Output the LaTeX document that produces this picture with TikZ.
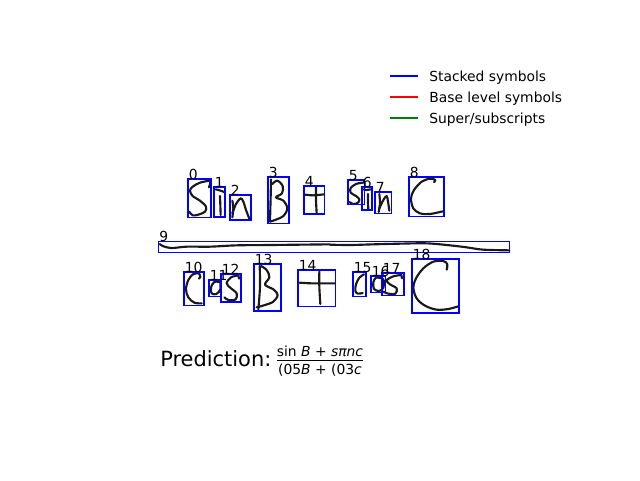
\documentclass[tikz,border=0pt]{standalone}
\usepackage{fontspec}
\setmainfont{DejaVu Sans}
\tikzset{
  symbox/.style={draw=blue,line width=1.2pt},
  ink/.style={draw=black!90,line width=1.6pt,line cap=round,line join=round},
  idx/.style={anchor=base west,inner sep=0pt,font=\fontsize{10.4}{12}\selectfont},
  legline/.style={line width=1.25pt},
  legtext/.style={anchor=base west,inner sep=0pt,font=\fontsize{10.4}{12}\selectfont},
  frac/.style={anchor=base,inner sep=0pt,font=\fontsize{10.4}{12}\selectfont},
  z1/.style={shift={(150,160)},x=0.25pt,y=-0.25pt},
  z2/.style={shift={(330,160)},x=0.25pt,y=-0.25pt},
  z3/.style={shift={(175,250)},x=0.25pt,y=-0.25pt},
  z4/.style={shift={(340,245)},x=0.25pt,y=-0.25pt},
}
\newcommand{\symb}[5]{%
  \draw[symbox] (#2-0.6,#4-0.6) rectangle (#3-0.6,#5-0.6);
  \node[idx] (lab#1) at (#2,#4-0.5) {#1};
}
\newcommand{\inkline}[1]{\draw[ink] plot[smooth,tension=0.55] coordinates {#1};}
\begin{document}
\begin{tikzpicture}[x=0.75pt,y=-0.75pt]
\useasboundingbox (0,0) rectangle (640,480);
% legend
\coordinate (la) at (390,76); \coordinate (lb) at (418,76);
\coordinate (ma) at (390,97); \coordinate (mb) at (418,97);
\coordinate (na) at (390,118); \coordinate (nb) at (418,118);
\draw[legline,blue] (la) -- (lb);
\draw[legline,red] (ma) -- (mb);
\draw[legline,green!50!black] (na) -- (nb);
\node[legtext] (t1) at (429,81) {Stacked symbols};
\node[legtext] (t2) at (429,102) {Base level symbols};
\node[legtext] (t3) at (429,123) {Super/subscripts};
% first row
\begin{scope}[z1]
\inkline{(178,62)(150,68)(128,80)(120,92)(128,108)(150,122)(168,140)(165,155)(145,164)(128,166)(118,155)}
\inkline{(182,60)(180,72)(177,82)}
\inkline{(197,88)(212,92)(222,96)}
\inkline{(210,108)(211,135)(212,165)}
\inkline{(247,122)(250,145)(247,172)}
\inkline{(247,160)(258,132)(272,115)(280,125)(288,150)(298,176)}
\inkline{(363,58)(362,110)(360,184)}
\inkline{(367,72)(382,62)(398,78)(396,100)(378,112)(400,122)(412,145)(400,168)(375,180)(360,185)}
\inkline{(466,104)(490,106)(522,103)}
\inkline{(498,82)(498,120)(500,160)}
\inkline{(30,252)(38,258)(65,264)(110,260)(180,260)(260,256)(360,255)(540,253)}
\end{scope}
\begin{scope}[z2]
\inkline{(98,68)(78,72)(62,84)(62,98)(78,108)(88,118)(84,128)(70,132)(58,126)}
\inkline{(102,64)(104,72)}
\inkline{(100,88)(110,90)(122,88)}
\inkline{(114,102)(114,125)(115,148)}
\inkline{(148,102)(150,130)(146,156)}
\inkline{(148,145)(160,120)(170,108)(174,125)(178,152)}
\inkline{(312,66)(316,60)(300,56)(275,65)(252,90)(243,115)(250,145)(270,160)(300,162)(338,154)}
\inkline{(0,254)(60,255)(130,253)(210,251)(290,250)(360,256)(410,262)(460,269)(538,271)}
\end{scope}
% second row
\begin{scope}[z3]
\inkline{(72,70)(55,72)(40,90)(33,118)(40,142)(58,158)(80,160)}
\inkline{(72,70)(76,80)(72,86)}
\inkline{(136,96)(118,96)(108,112)(110,130)(124,132)(136,118)(136,96)(138,128)}
\inkline{(190,76)(168,82)(155,100)(168,115)(185,130)(182,148)(160,150)(148,142)}
\inkline{(190,76)(192,86)}
\inkline{(254,48)(255,110)(250,178)}
\inkline{(258,48)(275,60)(283,82)(270,104)(295,118)(308,135)(295,155)(270,165)(245,172)}
\inkline{(374,98)(410,100)(480,100)}
\inkline{(433,64)(433,110)(436,162)}
\end{scope}
\begin{scope}[z4]
\inkline{(72,88)(58,98)(48,118)(46,138)(54,146)(68,144)}
\inkline{(126,100)(108,98)(100,112)(102,132)(118,138)(130,128)(132,108)(126,100)}
\inkline{(184,90)(160,94)(140,106)(150,118)(170,130)(166,146)(145,146)(130,140)}
\inkline{(184,90)(186,100)}
\inkline{(320,74)(322,58)(310,48)(280,50)(250,70)(228,100)(220,128)(230,160)(255,182)(290,194)(325,192)(355,184)}
\end{scope}
% boxes
\symb{0}{188.5}{211.5}{179.5}{218}
\symb{1}{214.5}{225.5}{187.5}{217.5}
\symb{2}{230.5}{251.5}{195.5}{220.5}
\symb{3}{268.5}{289.5}{177.5}{224}
\symb{4}{304.5}{325}{186.5}{214.5}
\symb{5}{348.5}{365}{180.5}{205}
\symb{6}{362.5}{372.5}{187.5}{210.5}
\symb{7}{375.5}{392}{192.5}{214}
\symb{8}{409.5}{444.5}{177.5}{217}
\symb{9}{159}{510}{242}{253}
\symb{10}{184.5}{204.5}{272.5}{306}
\symb{11}{209.5}{222}{280.5}{297}
\symb{12}{221.5}{241.5}{274.5}{302.5}
\symb{13}{254.5}{281.5}{264.5}{311.5}
\symb{14}{298.5}{336}{270.5}{307}
\symb{15}{353.5}{366.5}{272.5}{297}
\symb{16}{371.5}{386}{276.5}{293}
\symb{17}{382.5}{404.5}{273.5}{296}
\symb{18}{412.5}{459.5}{259.5}{313.5}
% prediction
\node[anchor=base west,inner sep=0pt,font=\fontsize{15.7}{18}\selectfont] (pred) at (160,366) {Prediction:};
\coordinate (ra) at (277,360.5); \coordinate (rb) at (363,360.5);
\draw[line width=0.7pt] (ra) -- (rb);
\node[frac] (num) at (320,356) {sin \textit{B} + \textit{sπnc}};
\node[frac] (den) at (320,374.5) {(05\textit{B} + (03\textit{c}};
\end{tikzpicture}
\end{document}
